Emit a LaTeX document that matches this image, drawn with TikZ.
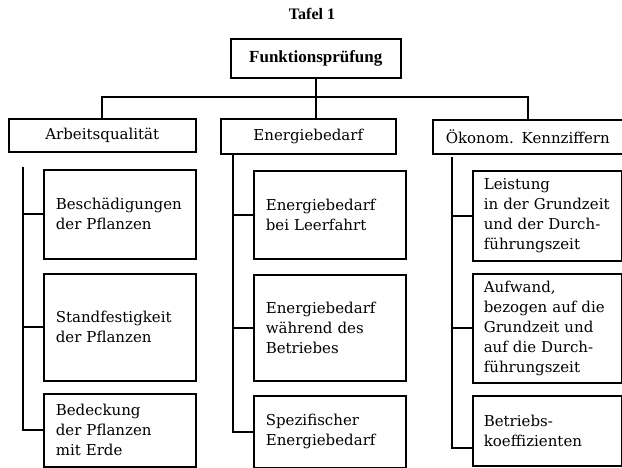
\documentclass[tikz,border=0pt]{standalone}
\usepackage{fontspec}
\setmainfont{Liberation Serif}
\newfontfamily\boxfont{DejaVu Serif}[WordSpace=1.3]
\tikzset{
  frame/.style={draw, rectangle, line width=1.6pt, anchor=north west, inner ysep=0pt},
  group/.style={frame, align=center, font=\boxfont\fontsize{15}{20}\selectfont},
  leaf/.style={frame, align=left, inner xsep=12pt, font=\boxfont\fontsize{15}{20}\selectfont},
  link/.style={line width=1.8pt},
}

\begin{document}
\begin{tikzpicture}[x=1pt,y=-1pt]
		\useasboundingbox (0,0) rectangle (622,467);
		\node[font=\bfseries\fontsize{16}{18}\selectfont] (title) at (312,14) {Tafel 1};
		\node[frame, minimum width=170pt, minimum height=39pt, font=\bfseries\fontsize{17}{20}\selectfont] (fp) at (230,38) {Funktionsprüfung};

		\node[group, minimum width=187pt, minimum height=33pt] (aq) at (8,118) {Arbeitsqualität};
		\node[group, minimum width=175pt, minimum height=35pt] (eb) at (220,118) {Energiebedarf};
		\node[group, minimum width=190pt, minimum height=34pt] (ok) at (432,119) {Ökonom. Kennziffern};

		\node[leaf, text width=128pt, minimum height=89pt] (aq1) at (43,169) {Beschädigungen\\der Pflanzen};
		\node[leaf, text width=128pt, minimum height=107pt] (aq2) at (43,273) {Standfestigkeit\\der Pflanzen};
		\node[leaf, text width=128pt, minimum height=73pt] (aq3) at (43,393) {Bedeckung\\der Pflanzen\\mit Erde};

		\node[leaf, text width=128pt, minimum height=88pt] (eb1) at (253,170) {Energiebedarf\\bei Leerfahrt};
		\node[leaf, text width=128pt, minimum height=106pt] (eb2) at (253,274) {Energiebedarf\\während des\\Betriebes};
		\node[leaf, text width=128pt, minimum height=72pt] (eb3) at (253,395) {Spezifischer\\Energiebedarf};

		\node[leaf, inner xsep=11pt, text width=127pt, minimum height=90pt] (ok1) at (472,170) {Leistung\\in der Grundzeit\\und der Durch-\\führungszeit};
		\node[leaf, inner xsep=11pt, text width=127pt, minimum height=109pt] (ok2) at (472,273) {Aufwand,\\bezogen auf die\\Grundzeit und\\auf die Durch-\\führungszeit};
		\node[leaf, inner xsep=11pt, text width=127pt, minimum height=70pt] (ok3) at (472,395) {Betriebs-\\koeffizienten};

		% top level
		\coordinate (bus) at (315,97);
		\draw[link] (fp.south) -- (fp.south |- eb.north);
		\draw[link] (aq.north) |- (bus) -| (ok.north);

		% branches
		\coordinate (aq-end) at (aq3.west);
		\coordinate (eb-end) at (eb3.west);
		\coordinate (ok-end) at ([yshift=-17pt]ok3.west);
		\foreach \g/\dx/\dy in {aq/15/-14, eb/13/0, ok/20/-2}{
			\coordinate (\g-top) at ([shift={(\dx pt,\dy pt)}]\g.south west);
			\draw[link] (\g-top) |- (\g-end);
			\foreach \i in {1,2}
				\draw[link] (\g-top |- \g\i.west) -- (\g\i.west);
		}
\end{tikzpicture}
\end{document}
